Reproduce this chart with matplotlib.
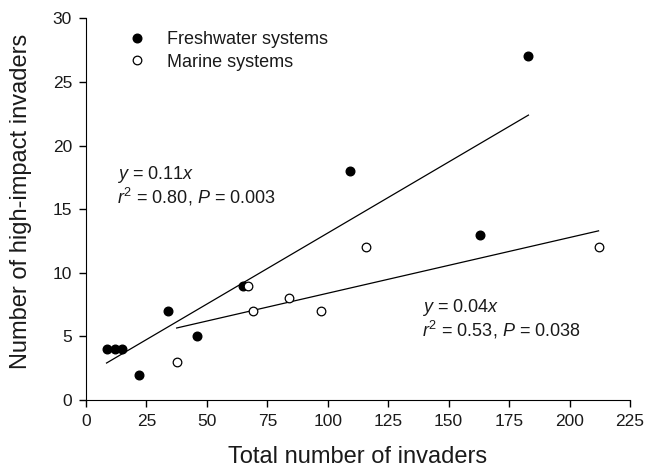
import numpy as np
import matplotlib
matplotlib.use("Agg")
import matplotlib.pyplot as plt

plt.rcParams['font.family'] = ['Liberation Sans', 'DejaVu Sans']
plt.rcParams['mathtext.fontset'] = 'custom'
plt.rcParams['mathtext.rm'] = 'Liberation Sans'
plt.rcParams['mathtext.it'] = 'Liberation Sans:italic'

fresh_x = [8.5, 12, 15, 22, 34, 46, 65, 109, 163, 183]
fresh_y = [4, 4, 4, 2, 7, 5, 9, 18, 13, 27]
marine_x = [37.5, 67, 69, 84, 97, 116, 212]
marine_y = [3, 9, 7, 8, 7, 12, 12]
x_ticks = [0, 25, 50, 75, 100, 125, 150, 175, 200, 225]
y_ticks = [0, 5, 10, 15, 20, 25, 30]

TXT = '#1a1a1a'

fig = plt.figure(figsize=(6.46, 4.72), dpi=100)
ax = fig.add_axes([0.1331, 0.1525, 0.8421, 0.8087])

ax.plot(fresh_x, fresh_y, 'o', color='black', markersize=6.2, zorder=3,
        label='Freshwater systems')
ax.plot(marine_x, marine_y, 'o', markerfacecolor='white', markeredgecolor='black',
        markeredgewidth=0.9, markersize=6.2, zorder=3, label='Marine systems')

for xs, ys in [(fresh_x, fresh_y), (marine_x, marine_y)]:
    m, b = np.polyfit(xs, ys, 1)
    xl = np.array([min(xs), max(xs)])
    ax.plot(xl, m * xl + b, color='black', linewidth=0.9, zorder=2)

ax.set_xlim(0, 225)
ax.set_ylim(0, 30)
ax.set_xticks(x_ticks)
ax.set_yticks(y_ticks)
ax.spines['top'].set_visible(False)
ax.spines['right'].set_visible(False)
ax.tick_params(direction='out', length=5, width=1, pad=5, labelsize=12.5,
               colors='black', labelcolor=TXT)
ax.set_xlabel('Total number of invaders', fontsize=17, labelpad=12.5, color=TXT)
ax.set_ylabel('Number of high-impact invaders', fontsize=17, color=TXT)
ax.yaxis.set_label_coords(-0.100, 0.521)

leg = ax.legend(loc='upper left', bbox_to_anchor=(0.0474, 0.985), frameon=False,
                fontsize=13, handletextpad=0.67, labelspacing=0.3,
                borderaxespad=0.0, borderpad=0.4, handlelength=2.0)
for t in leg.get_texts():
    t.set_color(TXT)

fs = 13
ax.text(12.7, 15.47,
        '$\\it{y}$ = 0.11$\\it{x}$\n$\\it{r}^{2}$ = 0.80, $\\it{P}$ = 0.003',
        fontsize=fs, va='baseline', ha='left', color=TXT, linespacing=1.05)
ax.text(139.1, 4.97,
        '$\\it{y}$ = 0.04$\\it{x}$\n$\\it{r}^{2}$ = 0.53, $\\it{P}$ = 0.038',
        fontsize=fs, va='baseline', ha='left', color=TXT, linespacing=1.05)

fig.savefig('out.png', dpi=100)
